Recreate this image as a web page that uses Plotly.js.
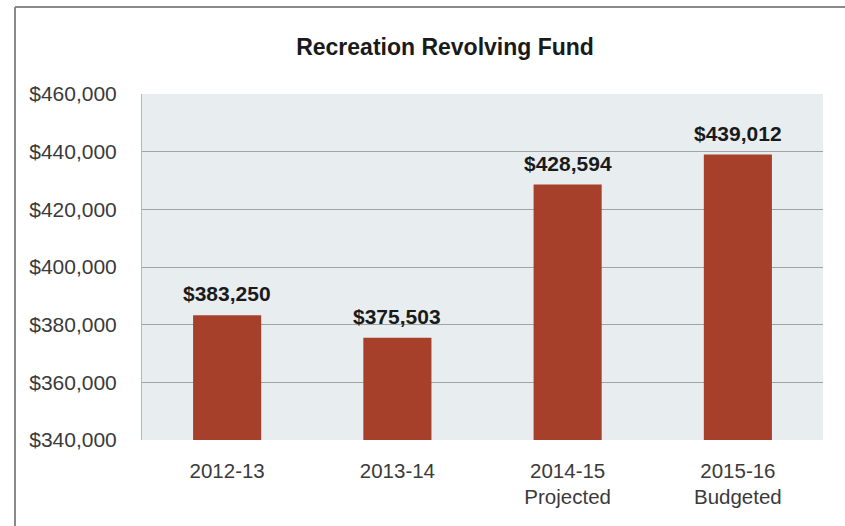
<!DOCTYPE html>
<html>
<head>
<meta charset="utf-8">
<script src="https://cdn.plot.ly/plotly-3.0.1.min.js"></script>
<style>
html,body{margin:0;padding:0;background:#fff;}
#chart{width:845px;height:526px;}
</style>
</head>
<body>
<div id="chart"></div>
<script>
const categories = ["2012-13", "2013-14", "2014-15<br>Projected", "2015-16<br>Budgeted"];
const values = [383250, 375503, 428594, 439012];
const valueLabels = ["$383,250", "$375,503", "$428,594", "$439,012"];
const yTickValues = [340000, 360000, 380000, 400000, 420000, 440000, 460000];
const yTickLabels = ["$340,000", "$360,000", "$380,000", "$400,000", "$420,000", "$440,000", "$460,000"];

const FONT = "Liberation Sans, Arial, sans-serif";

const trace = {
  type: "bar",
  x: categories,
  y: values,
  marker: {color: "#A6402A", line: {width: 0}},
  width: 0.4,
  hoverinfo: "none"
};

const annotations = categories.map((c, i) => ({
  x: c, y: values[i], xref: "x", yref: "y",
  text: "<b>" + valueLabels[i] + "</b>",
  showarrow: false,
  xanchor: "center", yanchor: "bottom",
  yshift: 8,
  font: {family: FONT, size: 21, color: "#1a1a1a"}
}));

const layout = {
  width: 845,
  height: 526,
  margin: {l: 142, r: 22, t: 94, b: 86, pad: 0},
  paper_bgcolor: "#ffffff",
  plot_bgcolor: "#E8EDF0",
  showlegend: false,
  title: {
    text: "<b>Recreation Revolving Fund</b>",
    font: {family: FONT, size: 23, color: "#1a1a1a"},
    x: 0.445, xref: "paper", xanchor: "center",
    y: 0.91, yref: "container", yanchor: "middle"
  },
  xaxis: {
    type: "category",
    showgrid: false,
    zeroline: false,
    showline: false,
    ticks: "",
    ticklabelstandoff: 16,
    tickfont: {family: FONT, size: 20.5, color: "#3a3a3a"}
  },
  yaxis: {
    range: [340000, 460000],
    tickmode: "array",
    tickvals: yTickValues,
    ticktext: yTickLabels,
    showgrid: true,
    gridcolor: "#A3A3A3",
    gridwidth: 1,
    zeroline: false,
    showline: true,
    linecolor: "#B8B8B8",
    linewidth: 1,
    ticks: "",
    ticklabelstandoff: 20,
    tickfont: {family: FONT, size: 21, color: "#3a3a3a"}
  },
  annotations: annotations,
  shapes: [
    {type: "line", xref: "paper", yref: "paper", x0: -0.1865, x1: -0.1865, y0: -0.3, y1: 1.2514,
     line: {color: "#8a8a8a", width: 2}, layer: "above"},
    {type: "line", xref: "paper", yref: "paper", x0: -0.1865, x1: 1.1, y0: 1.2514, y1: 1.2514,
     line: {color: "#8a8a8a", width: 2}, layer: "above"}
  ]
};

Plotly.newPlot("chart", [trace], layout, {staticPlot: true, displayModeBar: false});
</script>
</body>
</html>
